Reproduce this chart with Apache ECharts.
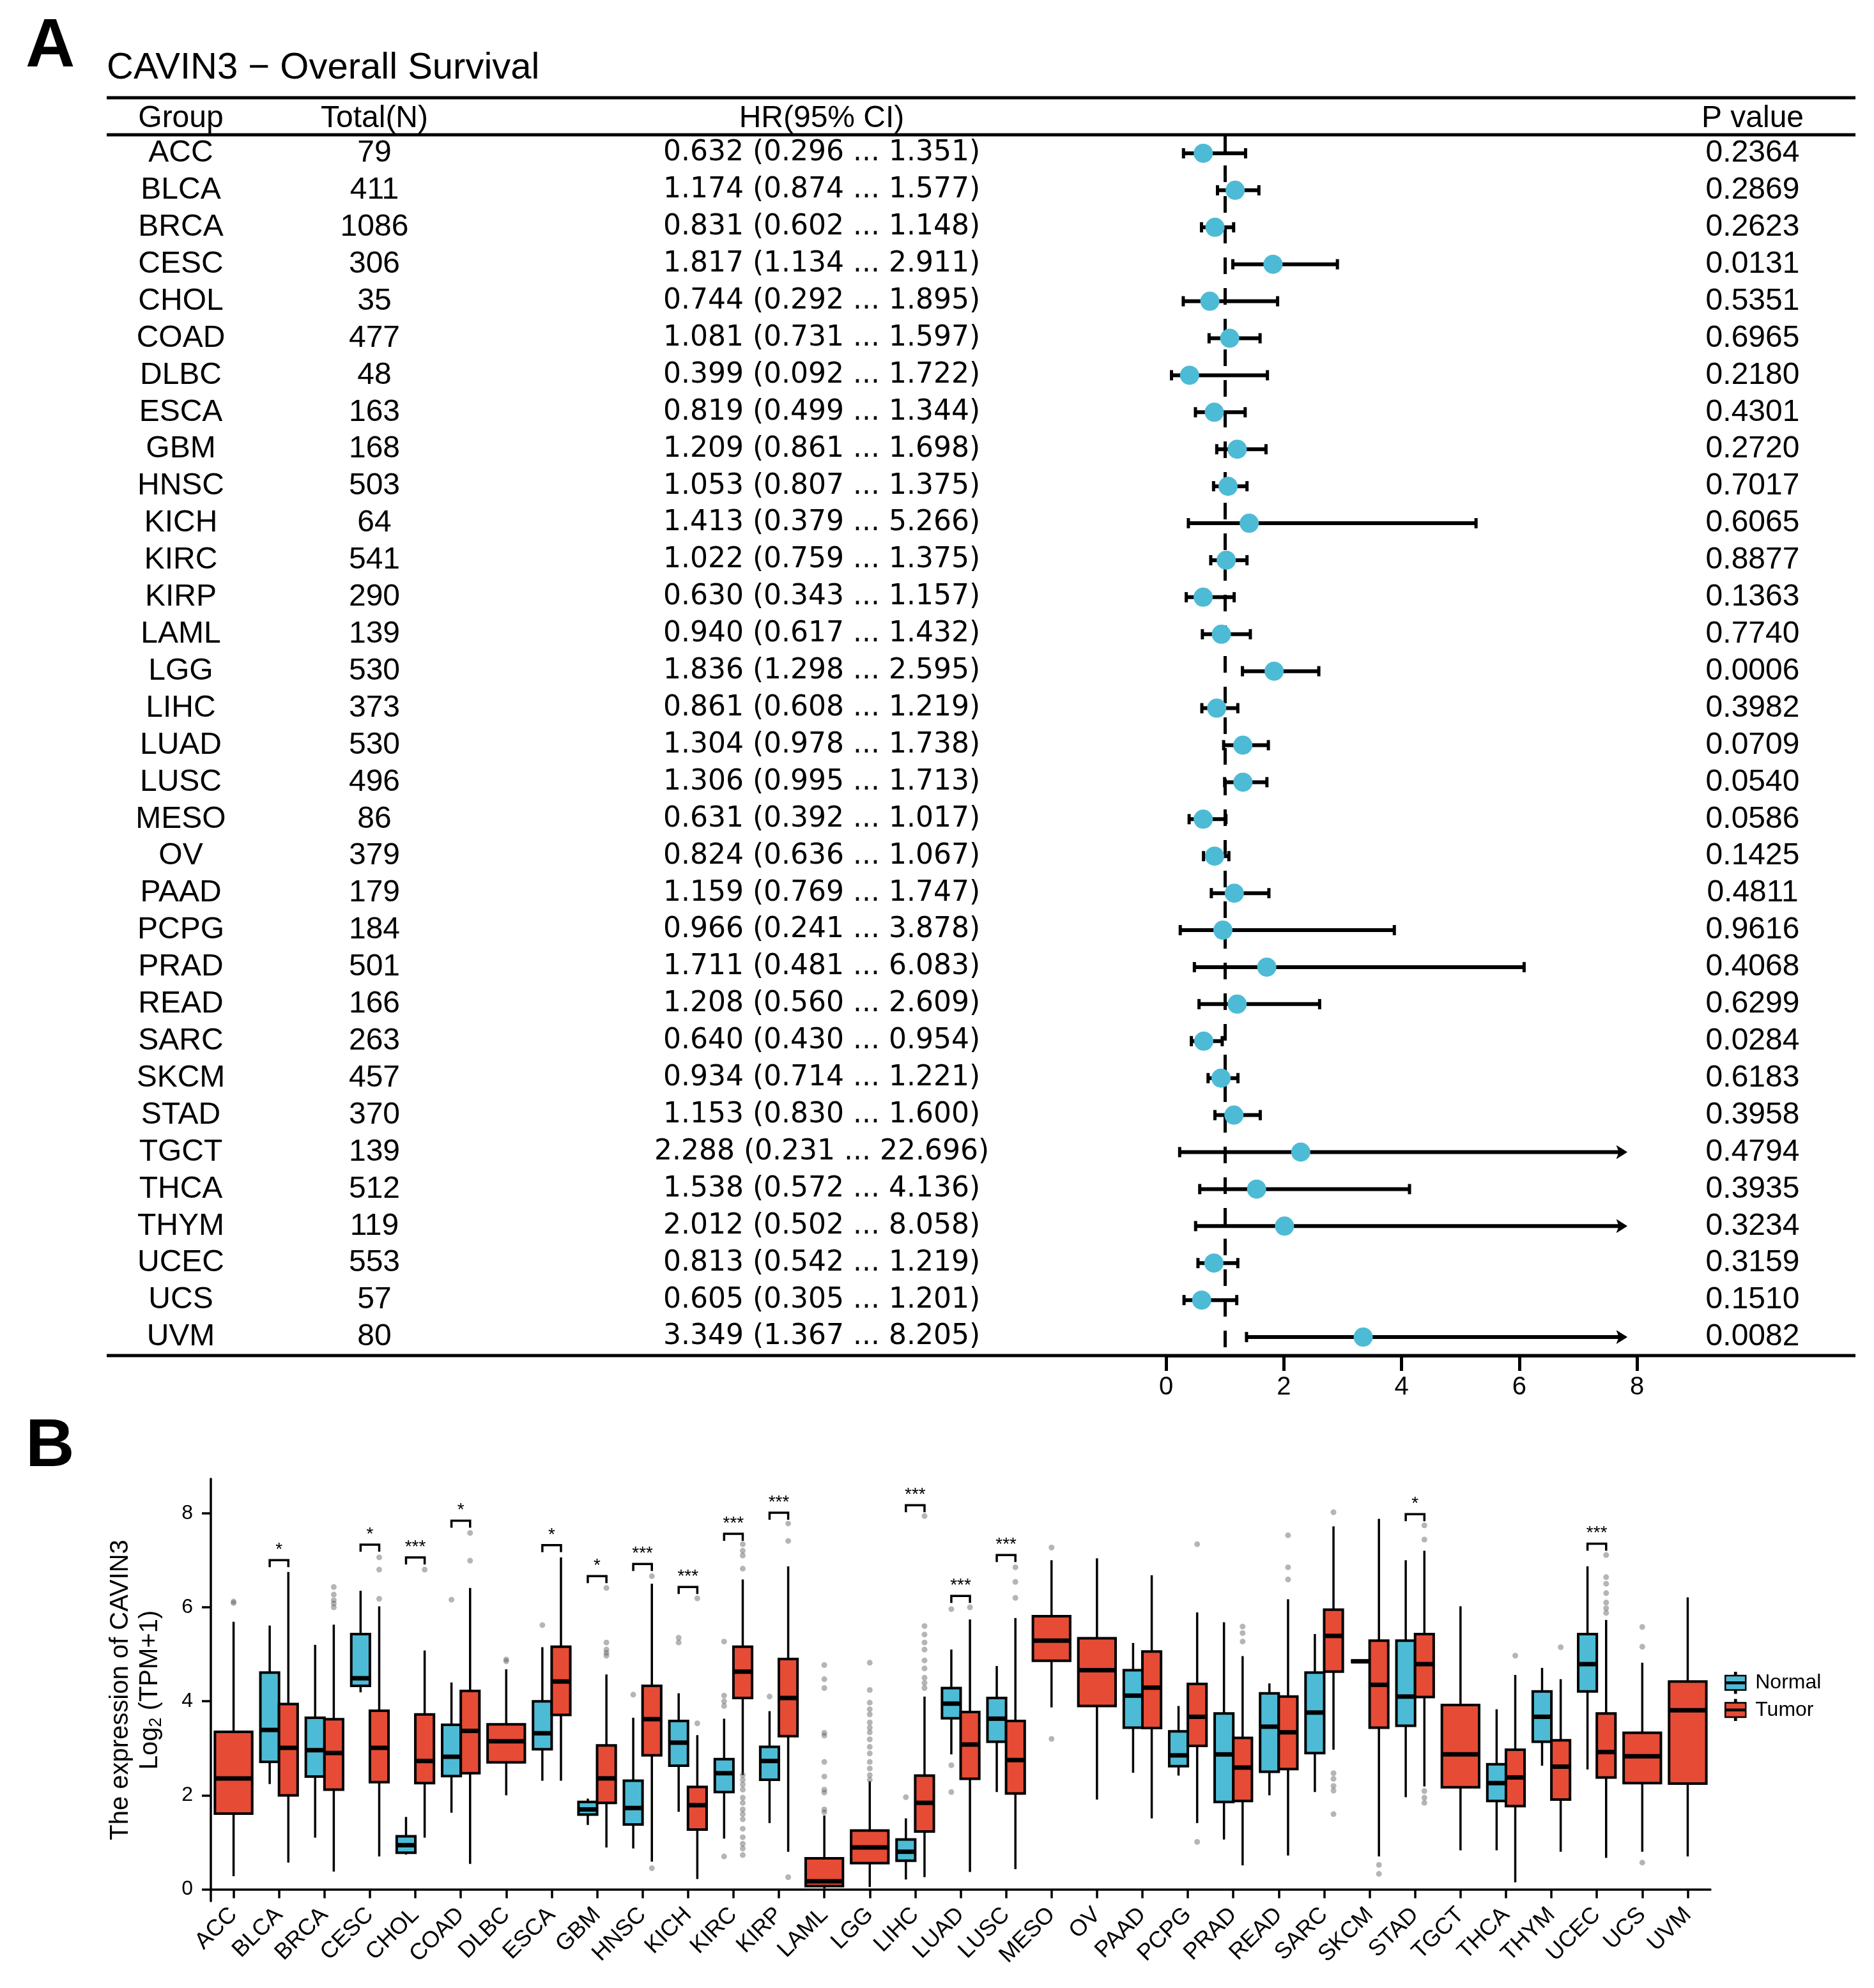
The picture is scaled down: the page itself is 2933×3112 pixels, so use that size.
<!DOCTYPE html>
<html lang="en">
<head>
  <meta charset="UTF-8">
  <title>CAVIN3 - Overall Survival / expression</title>
  <script src="https://cdn.jsdelivr.net/npm/echarts@6/dist/echarts.min.js"></script>
  <style>
    html, body { margin: 0; padding: 0; background: #fff; }
    #main { width: 2933px; height: 3112px; }
  </style>
</head>
<body>
  <div id="main"></div>
  <script>
    // ---- panel A : forest plot data ----
    var groups = ['ACC','BLCA','BRCA','CESC','CHOL','COAD','DLBC','ESCA','GBM','HNSC','KICH','KIRC','KIRP','LAML','LGG','LIHC',
                  'LUAD','LUSC','MESO','OV','PAAD','PCPG','PRAD','READ','SARC','SKCM','STAD','TGCT','THCA','THYM','UCEC','UCS','UVM'];
    var totalN = [79,411,1086,306,35,477,48,163,168,503,64,541,290,139,530,373,530,496,86,379,179,184,501,166,263,457,370,139,512,119,553,57,80];
    var hr     = [0.632,1.174,0.831,1.817,0.744,1.081,0.399,0.819,1.209,1.053,1.413,1.022,0.630,0.940,1.836,0.861,1.304,1.306,0.631,0.824,1.159,0.966,1.711,1.208,0.640,0.934,1.153,2.288,1.538,2.012,0.813,0.605,3.349];
    var hrLow  = [0.296,0.874,0.602,1.134,0.292,0.731,0.092,0.499,0.861,0.807,0.379,0.759,0.343,0.617,1.298,0.608,0.978,0.995,0.392,0.636,0.769,0.241,0.481,0.560,0.430,0.714,0.830,0.231,0.572,0.502,0.542,0.305,1.367];
    var hrHigh = [1.351,1.577,1.148,2.911,1.895,1.597,1.722,1.344,1.698,1.375,5.266,1.375,1.157,1.432,2.595,1.219,1.738,1.713,1.017,1.067,1.747,3.878,6.083,2.609,0.954,1.221,1.600,22.696,4.136,8.058,1.219,1.201,8.205];
    var pValue = [0.2364,0.2869,0.2623,0.0131,0.5351,0.6965,0.2180,0.4301,0.2720,0.7017,0.6065,0.8877,0.1363,0.7740,0.0006,0.3982,
                  0.0709,0.0540,0.0586,0.1425,0.4811,0.9616,0.4068,0.6299,0.0284,0.6183,0.3958,0.4794,0.3935,0.3234,0.3159,0.1510,0.0082];
    var forestTicks = [0, 8, 2];   // min, max, step
    var refLine = 1;
    var clipAt = 7.83;             // CI drawn as arrow beyond this

    // ---- panel B : boxplot data [min, Q1, median, Q3, max], null = no group ----
    var normalBox = [
      null,[2.24,2.71,3.39,4.61,5.61],[1.10,2.40,2.96,3.65,5.20],[4.19,4.33,4.49,5.43,6.35],[0.74,0.78,0.94,1.13,1.54],
      [1.63,2.41,2.82,3.50,4.40],null,[2.31,2.98,3.32,4.00,5.15],[1.37,1.59,1.70,1.86,1.93],[0.87,1.38,1.73,2.31,3.65],
      [1.65,2.63,3.12,3.58,4.17],[1.08,2.07,2.47,2.77,3.63],[1.41,2.33,2.73,3.03,3.79],null,null,[0.21,0.61,0.80,1.06,1.51],
      [2.87,3.64,3.95,4.28,5.10],[2.07,3.14,3.63,4.07,4.75],null,null,[2.48,3.44,4.12,4.66,5.24],[2.42,2.62,2.85,3.36,3.90],
      [1.06,1.86,2.87,3.74,5.68],[2.00,2.50,3.46,4.17,4.38],[2.07,2.90,3.76,4.61,5.43],[4.85,4.85,4.85,4.85,4.85],
      [1.96,3.48,4.10,5.29,7.00],null,[0.83,1.88,2.26,2.66,3.83],[2.63,3.14,3.67,4.21,4.71],[2.55,4.21,4.79,5.43,6.87],null,null
    ];
    var tumorBox = [
      [0.28,1.61,2.36,3.35,5.69],[0.57,2.00,3.01,3.94,6.75],[0.38,2.12,2.90,3.62,5.63],[0.70,2.28,3.01,3.80,6.02],[1.10,2.26,2.73,3.72,5.08],
      [0.54,2.47,3.37,4.22,6.41],[2.00,2.70,3.15,3.51,4.68],[2.31,3.71,4.42,5.16,7.06],[0.89,1.84,2.36,3.06,4.57],[0.59,2.85,3.62,4.33,6.50],
      [0.22,1.27,1.79,2.18,3.28],[2.43,4.07,4.63,5.16,6.59],[0.80,3.26,4.07,4.90,6.87],[0.02,0.07,0.17,0.66,1.57],[0.05,0.56,0.89,1.25,2.30],
      [0.26,1.23,1.84,2.42,4.10],[0.37,2.35,3.08,3.77,5.74],[0.43,2.04,2.75,3.58,5.77],[3.87,4.86,5.29,5.81,7.00],[1.91,3.90,4.66,5.34,7.04],
      [1.51,3.43,4.29,5.06,6.68],[1.41,3.05,3.67,4.37,5.89],[0.51,1.88,2.59,3.22,4.96],[0.72,2.56,3.34,4.10,6.17],[2.97,4.63,5.39,5.95,7.72],
      [0.70,3.44,4.35,5.29,7.88],[2.19,4.09,4.79,5.43,7.20],[0.83,2.17,2.87,3.92,6.02],[0.15,1.77,2.38,2.97,4.56],[0.80,1.91,2.61,3.17,4.47],
      [0.67,2.38,2.92,3.74,5.73],[0.80,2.26,2.83,3.33,4.82],[0.70,2.25,3.81,4.42,6.21]
    ];
    var normalOutliers = [
      [],[],[],[],[],[6.16],[],[5.62],[],[4.14],[5.35,5.25],[5.27,4.12,4.00,3.90,0.70],[4.10],[],[],[1.96],
      [5.96,2.64,2.07],[],[],[],[],[],[],[],[],[],[],[],[],[],[],[],[]
    ];
    var tumorOutliers = [
      [6.09,6.12],[],[6.43,6.27,6.15,6.08,6.00],[7.06,6.80,6.18],[6.80],[7.58,6.99],[4.89,4.85],[],[6.41,5.25,5.10,5.03,4.97],[6.66,0.45],
      [6.19,3.53],[7.34,7.20,7.10,6.82,2.43,2.33,2.23,2.12,1.95,1.84,1.70,1.60,1.49,1.29,1.11,0.97,0.87,0.73],[7.78,7.41,0.26],
      [4.77,4.47,4.28,3.33,3.27,2.71,2.40,2.12,2.06,1.70,1.64],
      [4.82,4.24,3.97,3.83,3.72,3.55,3.44,3.34,3.19,3.03,2.89,2.71,2.57,2.43,2.33],
      [7.94,5.60,5.42,5.25,5.10,4.87,4.70,4.50,4.39,4.28],[6.00],[6.85,6.54,6.20],[7.27,3.20],[],[],[7.34,1.01],[5.59,5.45,5.27],
      [7.53,6.85,6.59],[8.02,2.47,2.35,2.20,2.10,1.60],[0.52,0.33],[7.74,7.44,2.09,1.95,1.84],[],[4.97],[5.15],
      [7.11,6.64,6.50,6.30,6.10,5.98,5.88],[5.58,5.16,0.57],[]
    ];
    var sigCancer = ['BLCA','CESC','CHOL','COAD','ESCA','GBM','HNSC','KICH','KIRC','KIRP','LIHC','LUAD','LUSC','STAD','UCEC'];
    var sigLabel  = ['*','*','***','*','*','*','***','***','***','***','***','***','***','*','***'];
    var sigHeight = [7.00,7.33,7.06,7.84,7.32,6.66,6.92,6.43,7.56,8.01,8.17,6.24,7.11,7.98,7.35];
    var exprTicks = [-0.25, 8.73, 2];
    var exprTickValues = [0, 2, 4, 6, 8];

    var blue = '#4DBBD5', red = '#E64B35';
    var gridA = { left: 1825, top: 211, width: 737, height: 1911 };
    var gridB = { left: 330, top: 2315, width: 2347, height: 661 };
    var ruleLeft = 167, ruleRight = 2904;
    var col = { group: 283, total: 586, hr: 1286, p: 2743 };

    var chart = echarts.init(document.getElementById('main'));

    // ---- build series data ----
    var ciData = groups.map(function (g, i) { return [hrLow[i], hrHigh[i], i]; });
    var hrData = groups.map(function (g, i) { return [hr[i], i]; });
    var hrText = groups.map(function (g, i) {
      return hr[i].toFixed(3) + ' (' + hrLow[i].toFixed(3) + ' ... ' + hrHigh[i].toFixed(3) + ')';
    });

    function boxData(list) {
      var out = [];
      list.forEach(function (b, i) { if (b) out.push([i].concat(b)); });
      return out;
    }
    function outlierData(list, flag) {
      var out = [];
      list.forEach(function (vals, i) { vals.forEach(function (v) { out.push([i, v, flag]); }); });
      return out;
    }
    var sigData = sigCancer.map(function (c, k) { return [groups.indexOf(c), sigHeight[k]]; });

    // side-by-side placement when both groups exist for a cancer type
    function dodge(cat, flag, band) {
      var paired = normalBox[cat] && tumorBox[cat];
      if (!paired) return { dx: 0, w: band * 0.82 };
      var w = band * 0.41;
      return { dx: flag === 0 ? -w / 2 : w / 2, w: w };
    }

    function renderBox(flag) {
      return function (params, api) {
        var c = api.value(0);
        var band = api.size([1, 0])[0];
        var d = dodge(c, flag, band);
        var pMin = api.coord([c, api.value(1)]);
        var pQ1 = api.coord([c, api.value(2)]);
        var pMed = api.coord([c, api.value(3)]);
        var pQ3 = api.coord([c, api.value(4)]);
        var pMax = api.coord([c, api.value(5)]);
        var x = pMin[0] + d.dx, hw = d.w / 2;
        var ls = { stroke: '#000', lineWidth: 3.5, fill: 'none' };
        return {
          type: 'group',
          children: [
            { type: 'line', shape: { x1: x, y1: pMin[1], x2: x, y2: pQ1[1] }, style: ls },
            { type: 'line', shape: { x1: x, y1: pQ3[1], x2: x, y2: pMax[1] }, style: ls },
            { type: 'rect', shape: { x: x - hw, y: pQ3[1], width: d.w, height: pQ1[1] - pQ3[1] },
              style: { fill: api.visual('color'), stroke: '#000', lineWidth: 4 } },
            { type: 'line', shape: { x1: x - hw, y1: pMed[1], x2: x + hw, y2: pMed[1] },
              style: { stroke: '#000', lineWidth: 7, fill: 'none' } }
          ]
        };
      };
    }

    function renderOutlier(params, api) {
      var c = api.value(0), flag = api.value(2);
      var d = dodge(c, flag, api.size([1, 0])[0]);
      var p = api.coord([c, api.value(1)]);
      return { type: 'circle', shape: { cx: p[0] + d.dx, cy: p[1], r: 4.5 },
               style: { fill: 'rgba(90,90,90,0.45)', stroke: 'none' } };
    }

    function renderSig(params, api) {
      var c = api.value(0);
      var band = api.size([1, 0])[0];
      var l = dodge(c, 0, band), r = dodge(c, 1, band);
      var p = api.coord([c, api.value(1)]);
      var x1 = p[0] + l.dx, x2 = p[0] + r.dx, y = p[1];
      return {
        type: 'group',
        children: [
          { type: 'polyline', shape: { points: [[x1, y + 11], [x1, y], [x2, y], [x2, y + 11]] },
            style: { stroke: '#000', lineWidth: 3.5, fill: null } },
          { type: 'text', x: p[0], y: y - 2,
            style: { text: sigLabel[params.dataIndex], fontSize: 28, fill: '#000',
                     align: 'center', verticalAlign: 'bottom', fontFamily: 'Liberation Sans' } }
        ]
      };
    }

    function renderCI(params, api) {
      var lo = api.value(0), hi = api.value(1), row = api.value(2);
      var clipped = hi > clipAt;
      var a = api.coord([lo, row]);
      var b = api.coord([clipped ? clipAt : hi, row]);
      var st = { stroke: '#000', lineWidth: 6, fill: 'none' };
      var cap = { stroke: '#000', lineWidth: 5, fill: 'none' };
      var kids = [
        { type: 'line', shape: { x1: a[0], y1: a[1], x2: clipped ? b[0] - 8 : b[0], y2: b[1] }, style: st },
        { type: 'line', shape: { x1: a[0], y1: a[1] - 8, x2: a[0], y2: a[1] + 8 }, style: cap }
      ];
      if (clipped) {
        kids.push({ type: 'polygon', shape: { points: [[b[0], b[1]], [b[0] - 16, b[1] - 10], [b[0] - 12, b[1]], [b[0] - 16, b[1] + 10]] },
                    style: { fill: '#000', stroke: '#000', lineWidth: 1 } });
      } else {
        kids.push({ type: 'line', shape: { x1: b[0], y1: b[1] - 8, x2: b[0], y2: b[1] + 8 }, style: cap });
      }
      return { type: 'group', children: kids };
    }

    function tableAxis(labels, pos, offset, font, size) {
      return {
        type: 'category', gridIndex: 0, data: labels, inverse: true, position: pos, offset: offset,
        axisLine: { show: false }, axisTick: { show: false }, splitLine: { show: false },
        axisLabel: { interval: 0, margin: 0, align: 'center', verticalAlign: 'middle',
                     fontSize: size, fontFamily: font, color: '#000' }
      };
    }

    function header(text, x) {
      return { text: text, left: x, top: 162, padding: 0, textAlign: 'center',
               textStyle: { fontSize: 48, fontWeight: 'normal', color: '#000', fontFamily: 'Liberation Sans' } };
    }

    function rule(y) {
      return { type: 'line', shape: { x1: ruleLeft, y1: y, x2: ruleRight, y2: y }, style: { stroke: '#000', lineWidth: 5 } };
    }

    var option = {
      backgroundColor: '#fff',
      animation: false,
      textStyle: { fontFamily: 'Liberation Sans' },
      title: [
        { text: 'A', left: 40, top: 21, padding: 0,
          textStyle: { fontSize: 107, fontWeight: 'bold', color: '#000', fontFamily: 'Liberation Sans' } },
        { text: 'CAVIN3 \u2212 Overall Survival', left: 167, top: 78, padding: 0,
          textStyle: { fontSize: 58, fontWeight: 'normal', color: '#000', fontFamily: 'Liberation Sans' } },
        header('Group', col.group),
        header('Total(N)', col.total),
        header('HR(95% CI)', col.hr),
        header('P value', col.p),
        { text: 'B', left: 40, top: 2213, padding: 0,
          textStyle: { fontSize: 106, fontWeight: 'bold', color: '#000', fontFamily: 'Liberation Sans' } }
      ],
      graphic: [
        rule(153),
        rule(gridA.top),
        rule(gridA.top + gridA.height)
      ],
      legend: {
        data: ['Normal', 'Tumor'],
        orient: 'vertical', left: 2694, top: 2612,
        itemWidth: 52, itemHeight: 32, itemGap: 8,
        icon: 'path://M0,3L9.3,3L9.3,0L10.7,0L10.7,3L20,3L20,17L10.7,17L10.7,20L9.3,20L9.3,17L0,17Z M0,9.3L20,9.3L20,10.7L0,10.7Z',
        itemStyle: { borderColor: '#000', borderWidth: 2.5 },
        textStyle: { fontSize: 32, color: '#000', fontFamily: 'Liberation Sans' }
      },
      grid: [
        { left: gridA.left, top: gridA.top, width: gridA.width, height: gridA.height },
        { left: gridB.left, top: gridB.top, width: gridB.width, height: gridB.height }
      ],
      xAxis: [
        {
          type: 'value', gridIndex: 0, min: forestTicks[0], max: forestTicks[1], interval: forestTicks[2],
          axisLine: { show: true, lineStyle: { color: '#000', width: 5 } },
          axisTick: { show: true, length: 24, lineStyle: { color: '#000', width: 5 } },
          axisLabel: { fontSize: 40, color: '#000', margin: 30 },
          splitLine: { show: false }
        },
        {
          type: 'category', gridIndex: 1, data: groups,
          axisLine: { show: true, lineStyle: { color: '#000', width: 3.5 } },
          axisTick: { show: true, alignWithLabel: true, length: 14, lineStyle: { color: '#000', width: 3.5 } },
          axisLabel: { interval: 0, rotate: 45, fontSize: 36, color: '#000', margin: 16 },
          splitLine: { show: false }
        }
      ],
      yAxis: [
        tableAxis(groups, 'left', gridA.left - col.group, 'Liberation Sans', 48),
        tableAxis(totalN, 'left', gridA.left - col.total, 'Liberation Sans', 48),
        tableAxis(hrText, 'left', gridA.left - col.hr, 'DejaVu Sans', 44),
        tableAxis(pValue.map(function (p) { return p.toFixed(4); }), 'right', col.p - (gridA.left + gridA.width), 'Liberation Sans', 48),
        {
          type: 'value', gridIndex: 1, min: exprTicks[0], max: exprTicks[1], interval: exprTicks[2],
          axisLabel: { fontSize: 32, color: '#000', margin: 28, customValues: exprTickValues },
          axisTick: { show: true, length: 14, lineStyle: { color: '#000', width: 3.5 }, customValues: exprTickValues },
          axisLine: { show: true, lineStyle: { color: '#000', width: 3.5 } },
          splitLine: { show: false },
          name: 'The expression of CAVIN3\n{a|Log}{b|2}{a| (TPM+1)}',
          nameLocation: 'middle', nameRotate: 90, nameGap: 72,
          nameTextStyle: {
            fontSize: 40, lineHeight: 46, color: '#000', align: 'center',
            rich: {
              a: { fontSize: 40, lineHeight: 46, color: '#000' },
              b: { fontSize: 27, lineHeight: 46, color: '#000', verticalAlign: 'bottom' }
            }
          }
        }
      ],
      series: [
        {
          name: 'CI', type: 'custom', xAxisIndex: 0, yAxisIndex: 0, z: 3,
          renderItem: renderCI, encode: { x: [0, 1], y: 2 }, data: ciData
        },
        {
          name: 'HR', type: 'scatter', xAxisIndex: 0, yAxisIndex: 0, z: 4,
          symbolSize: 30, itemStyle: { color: blue, opacity: 1 }, data: hrData,
          markLine: {
            silent: true, symbol: 'none', label: { show: false }, z: 2,
            lineStyle: { color: '#000', width: 5, type: [26, 22] },
            data: [{ xAxis: refLine }]
          }
        },
        {
          name: 'Normal', type: 'custom', xAxisIndex: 1, yAxisIndex: 4, z: 3,
          itemStyle: { color: blue },
          renderItem: renderBox(0), encode: { x: 0, y: [1, 2, 3, 4, 5] }, data: boxData(normalBox)
        },
        {
          name: 'Tumor', type: 'custom', xAxisIndex: 1, yAxisIndex: 4, z: 3,
          itemStyle: { color: red },
          renderItem: renderBox(1), encode: { x: 0, y: [1, 2, 3, 4, 5] }, data: boxData(tumorBox)
        },
        {
          name: 'outliers', type: 'custom', xAxisIndex: 1, yAxisIndex: 4, z: 4,
          renderItem: renderOutlier, encode: { x: 0, y: 1 },
          data: outlierData(normalOutliers, 0).concat(outlierData(tumorOutliers, 1))
        },
        {
          name: 'signif', type: 'custom', xAxisIndex: 1, yAxisIndex: 4, z: 4,
          renderItem: renderSig, encode: { x: 0, y: 1 }, data: sigData
        }
      ]
    };

    chart.setOption(option);
  </script>
</body>
</html>
